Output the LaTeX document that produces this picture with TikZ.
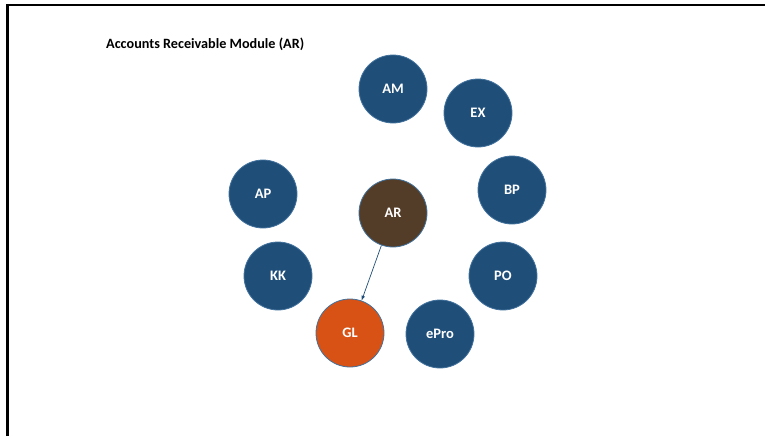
\documentclass[tikz,border=0pt]{standalone}
\usepackage{fontspec}
\setmainfont{Carlito}
\definecolor{modblue}{RGB}{31,78,121}
\definecolor{arbrown}{RGB}{84,61,40}
\definecolor{glorange}{RGB}{216,82,22}
\definecolor{rimblue}{RGB}{65,113,156}
\tikzset{
    module/.style={circle,minimum size=68pt,inner sep=0pt,draw=rimblue,line width=0.8pt,
        text=white,font=\bfseries\fontsize{14.5}{16}\selectfont},
}
\begin{document}
\begin{tikzpicture}[x=1pt,y=-1pt,>=latex]
        \useasboundingbox (0,0) rectangle (765,436);
        % draw the frame
        \draw[line width=2.2pt] (7.5,436) -- (7.5,5) -- (765,5);

        % draw the title
        \node[anchor=west,inner sep=0pt,font=\bfseries\fontsize{14.2}{16}\selectfont] (title) at (106,44) {Accounts Receivable Module (AR)};

        % draw the other modules
        \foreach \name/\x/\y in {
            AM/393/89,
            EX/478/113,
            BP/512/190,
            PO/503/276,
            AP/263/194,
            KK/278/276}
                \node[module,fill=modblue] (\name) at (\x,\y) {\name};
        \node[module,fill=modblue] (ePro) at (440,334) {ePro};

        % draw the hub and the ledger
        \node[module,fill=arbrown] (AR) at (393,213) {AR};
        \node[module,fill=glorange] (GL) at (350,333) {GL};

        % draw the link
        \draw[->,modblue,line width=0.7pt] (AR) -- (GL);
\end{tikzpicture}
\end{document}
